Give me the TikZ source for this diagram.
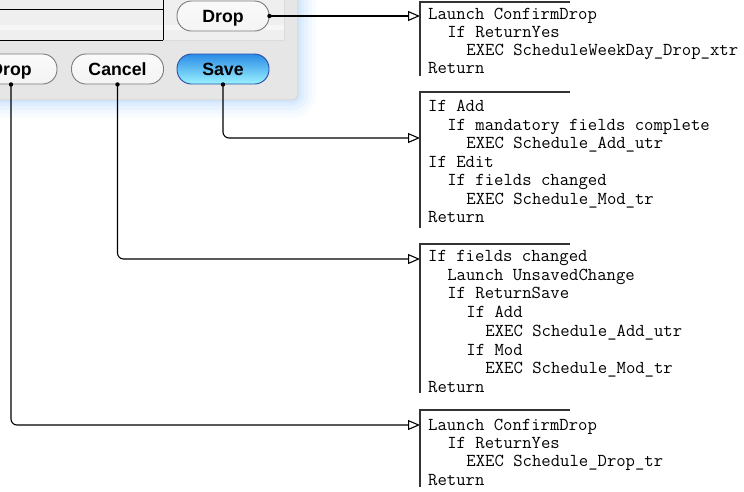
\documentclass[tikz,border=0pt]{standalone}
\usepackage{fontspec}
\setmainfont{Liberation Sans}
\usetikzlibrary{arrows.meta}
\definecolor{panel}{HTML}{E6E6E6}
\definecolor{panellight}{HTML}{EFEFEF}
\definecolor{glow}{HTML}{8EC2FF}
\definecolor{btnborder}{HTML}{7C7C7C}
\definecolor{btntop}{HTML}{FAFAFA}
\definecolor{btnmid}{HTML}{DADADA}
\definecolor{btnbot}{HTML}{F4F4F4}
\definecolor{saveborder}{HTML}{2A4EA8}
\definecolor{savetop}{HTML}{2A8CE6}
\definecolor{savemid}{HTML}{4DBBF5}
\definecolor{savebot}{HTML}{9AF2FF}
\definecolor{brk}{HTML}{333333}
\begin{document}
\begin{tikzpicture}[x=1pt,y=-1pt,
  btn/.style={draw=btnborder, line width=0.9pt, rounded corners=14.5pt,
    minimum width=92pt, minimum height=30pt, inner sep=0pt,
    top color=btntop, middle color=btnmid, bottom color=btnbot,
    font=\bfseries\fontsize{17.7}{20}\selectfont, text height=12.7pt, text depth=0pt},
  savebtn/.style={btn, draw=saveborder, top color=savetop, middle color=savemid, bottom color=savebot},
  conn/.style={line width=1.1pt, -{Triangle[open, length=12pt, width=10pt, line width=1.1pt]}},
  dot/.style={fill=black},
  codeline/.style={anchor=base west, inner sep=0pt, font=\ttfamily\fontsize{18.2}{20}\selectfont},
  bracket/.style={draw=brk, line width=1.2pt}
]
\useasboundingbox (0,0) rectangle (744,491);
\clip (0,0) rectangle (744,491);

% glow around the window
\foreach \r/\o in {18/0.05, 14/0.07, 10/0.09, 6/0.11, 3/0.13}{
  \fill[glow, fill opacity=\o, rounded corners=6pt+\r pt] (-40,-40) rectangle (298+\r,100+\r);
}
% window
\fill[panel, rounded corners=6pt] (-40,-40) rectangle (298,100);
\draw[black!18, line width=0.8pt, rounded corners=6pt] (-40,-40) rectangle (298,100);
\draw[black!10, line width=0.8pt] (292,-40) -- (292,95) -- (-40,95);
\fill[panellight] (-40,-40) rectangle (284,40);
\draw[black!14, line width=0.8pt] (284,-40) -- (284,40) -- (-40,40);
\fill[white, fill opacity=0.45] (-40,25) rectangle (284,30);
\draw[black, line width=1pt] (-40,9) -- (163,9);
\draw[black, line width=1pt] (-40,40) -- (163,40);
\draw[black, line width=1pt] (163,-5) -- (163,40);

% buttons
\node[btn] (dropT) at (223,16) {Drop};
\node[btn] (dropB) at (11,69) {Drop};
\node[btn] (cancel) at (117.5,69) {Cancel};
\node[savebtn] (save) at (223,69) {Save};

% targets
\coordinate (t1) at (420,16);
\coordinate (t2) at (420,138);
\coordinate (t3) at (420,259);
\coordinate (t4) at (420,425);

% connectors
\draw[conn] (dropT.east) -- (t1);
\draw[conn, rounded corners=6pt] (save.south) |- (t2);
\draw[conn, rounded corners=6pt] (cancel.south) |- (t3);
\draw[conn, rounded corners=6pt] (dropB.south) |- (t4);
\fill[dot] (dropT.east) circle (2.2pt);
\fill[dot] (save.south) circle (2.2pt);
\fill[dot] (cancel.south) circle (2.2pt);
\fill[dot] (dropB.south) circle (2.2pt);

% brackets
\draw[bracket] (570,2) -- (420,2) -- (420,76);
\draw[bracket] (570,92) -- (420,92) -- (420,228);
\draw[bracket] (570,244) -- (420,244) -- (420,393);
\draw[bracket] (570,410) -- (420,410) -- (420,487);

% box 1
\node[codeline] (a1) at (428,19.5) {Launch ConfirmDrop};
\node[codeline] (a2) at (447.1,37.5) {If ReturnYes};
\node[codeline] (a3) at (466.2,55.5) {EXEC ScheduleWeekDay\_Drop\_xtr};
\node[codeline] (a4) at (428,73.5) {Return};

% box 2
\node[codeline] (b1) at (428,111.5) {If Add};
\node[codeline] (b2) at (447.1,130) {If mandatory fields complete};
\node[codeline] (b3) at (466.2,148.6) {EXEC Schedule\_Add\_utr};
\node[codeline] (b4) at (428,167.2) {If Edit};
\node[codeline] (b5) at (447.1,185.7) {If fields changed};
\node[codeline] (b6) at (466.2,204.3) {EXEC Schedule\_Mod\_tr};
\node[codeline] (b7) at (428,222.8) {Return};

% box 3
\node[codeline] (c1) at (428,261.5) {If fields changed};
\node[codeline] (c2) at (447.1,280.2) {Launch UnsavedChange};
\node[codeline] (c3) at (447.1,298.9) {If ReturnSave};
\node[codeline] (c4) at (466.2,317.6) {If Add};
\node[codeline] (c5) at (485.2,336.3) {EXEC Schedule\_Add\_utr};
\node[codeline] (c6) at (466.2,355) {If Mod};
\node[codeline] (c7) at (485.2,373.7) {EXEC Schedule\_Mod\_tr};
\node[codeline] (c8) at (428,392.4) {Return};

% box 4
\node[codeline] (d1) at (428,430) {Launch ConfirmDrop};
\node[codeline] (d2) at (447.1,448.3) {If ReturnYes};
\node[codeline] (d3) at (466.2,466.6) {EXEC Schedule\_Drop\_tr};
\node[codeline] (d4) at (428,485) {Return};
\end{tikzpicture}
\end{document}
